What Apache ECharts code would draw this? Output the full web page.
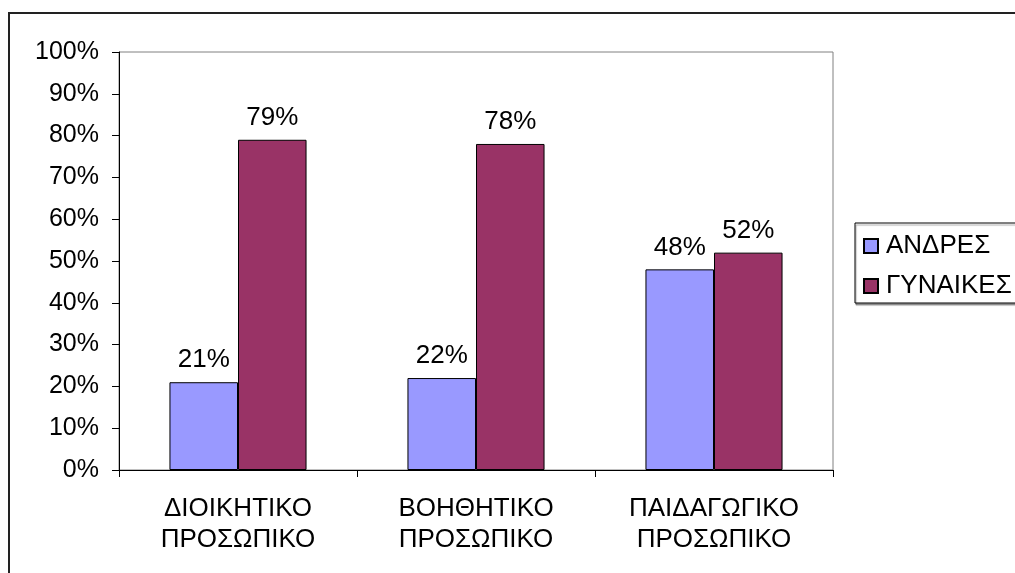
<!DOCTYPE html>
<html>
<head>
<meta charset="utf-8">
<script src="https://cdn.jsdelivr.net/npm/echarts@6/dist/echarts.min.js"></script>
<style>
html,body{margin:0;padding:0;background:#fff;}
#chart{width:1015px;height:573px;}
</style>
</head>
<body>
<div id="chart"></div>
<script>
const categories = ["ΔΙΟΙΚΗΤΙΚΟ\nΠΡΟΣΩΠΙΚΟ", "ΒΟΗΘΗΤΙΚΟ\nΠΡΟΣΩΠΙΚΟ", "ΠΑΙΔΑΓΩΓΙΚΟ\nΠΡΟΣΩΠΙΚΟ"];
const seriesNames = ["ΑΝΔΡΕΣ", "ΓΥΝΑΙΚΕΣ"];
const men = [21, 22, 48];
const women = [79, 78, 52];

const chart = echarts.init(document.getElementById('chart'), null, {renderer: 'canvas'});
const font = "'Liberation Sans', Arial, sans-serif";
const colors = ['#9999FF', '#993366'];
const mkSeries = (name, data, color) => ({
  name: name,
  type: 'bar',
  data: data,
  barGap: '0%',
  barCategoryGap: '42.4%',
  itemStyle: {color: color, borderColor: '#000', borderWidth: 1},
  label: {
    show: true, position: 'top', distance: 9,
    formatter: p => p.value + '%',
    fontFamily: font, fontSize: 26, color: '#000'
  }
});
chart.setOption({
  animation: false,
  backgroundColor: '#fff',
  graphic: [{
    type: 'rect',
    shape: {x: 9, y: 13, width: 1030, height: 600},
    style: {fill: 'none', stroke: '#222', lineWidth: 2},
    z: 100
  }],
  grid: {
    left: 119, right: 182, top: 52, bottom: 103,
    show: true, borderColor: '#808080', borderWidth: 1, backgroundColor: 'transparent'
  },
  legend: {
    orient: 'vertical',
    left: 855, top: 223,
    padding: [10, 40, 4, 8],
    itemGap: 14,
    itemWidth: 14, itemHeight: 14,
    icon: 'rect',
    borderColor: '#000', borderWidth: 1,
    shadowColor: 'rgba(0,0,0,0.35)', shadowOffsetX: 1, shadowOffsetY: 2, shadowBlur: 1,
    backgroundColor: '#fff',
    textStyle: {fontFamily: font, fontSize: 26, color: '#000', lineHeight: 26, padding: [0,0,0,3]},
    data: seriesNames
  },
  xAxis: {
    type: 'category',
    data: categories,
    axisLine: {lineStyle: {color: '#000', width: 1}},
    axisTick: {show: true, length: 7, inside: false, alignWithLabel: false, lineStyle: {color: '#000'}},
    axisLabel: {fontFamily: font, fontSize: 26, color: '#000', lineHeight: 31, margin: 23, interval: 0}
  },
  yAxis: {
    type: 'value',
    min: 0, max: 100, interval: 10,
    axisLine: {show: true, lineStyle: {color: '#000', width: 1}},
    axisTick: {show: true, length: 7, lineStyle: {color: '#000'}},
    splitLine: {show: false},
    axisLabel: {fontFamily: font, fontSize: 25, color: '#000', margin: 20, formatter: '{value}%'}
  },
  series: [
    mkSeries(seriesNames[0], men, colors[0]),
    mkSeries(seriesNames[1], women, colors[1])
  ]
});
</script>
</body>
</html>
